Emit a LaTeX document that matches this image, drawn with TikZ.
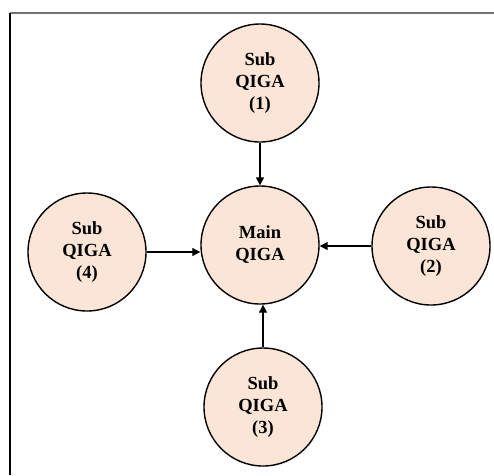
\documentclass[tikz,border=0pt]{standalone}
\usepackage{fontspec}
\setmainfont{Liberation Serif}
\usetikzlibrary{arrows.meta}
\definecolor{peach}{HTML}{FBE5D6}
\tikzset{
  qiga/.style={circle, draw, line width=1.4pt, fill=peach, minimum size=118pt,
    inner sep=0pt, align=center, font=\fontsize{18.5}{22}\selectfont\bfseries},
  arr/.style={line width=1.2pt, -{Triangle[length=8pt,width=8pt]}}
}
\begin{document}
\begin{tikzpicture}[x=1pt,y=-1pt]
		\useasboundingbox (0,0) rectangle (494,475);
		
		% Rahmen
		\draw[line width=1.2pt, black!55] (10,13) -- (494,13);
		\draw[line width=1.2pt] (10,13) -- (10,475);
		
		% Knoten
		\node[qiga] (main) at (260,245) {Main\\QIGA};
		\node[qiga] (sub1) at (260,83) {Sub\\QIGA\\(1)};
		\node[qiga] (sub2) at (431,246) {Sub\\QIGA\\(2)};
		\node[qiga] (sub3) at (263,407) {Sub\\QIGA\\(3)};
		\node[qiga] (sub4) at (87,252) {Sub\\QIGA\\(4)};
		
		% Pfeile
		\draw[arr] (sub1) -- (main);
		\draw[arr] (sub2) -- (sub2 -| main.east);
		\draw[arr] (sub3) -- (sub3 |- main.south);
		\draw[arr] (sub4) -- (sub4 -| main.west);
		
	\end{tikzpicture}
\end{document}
